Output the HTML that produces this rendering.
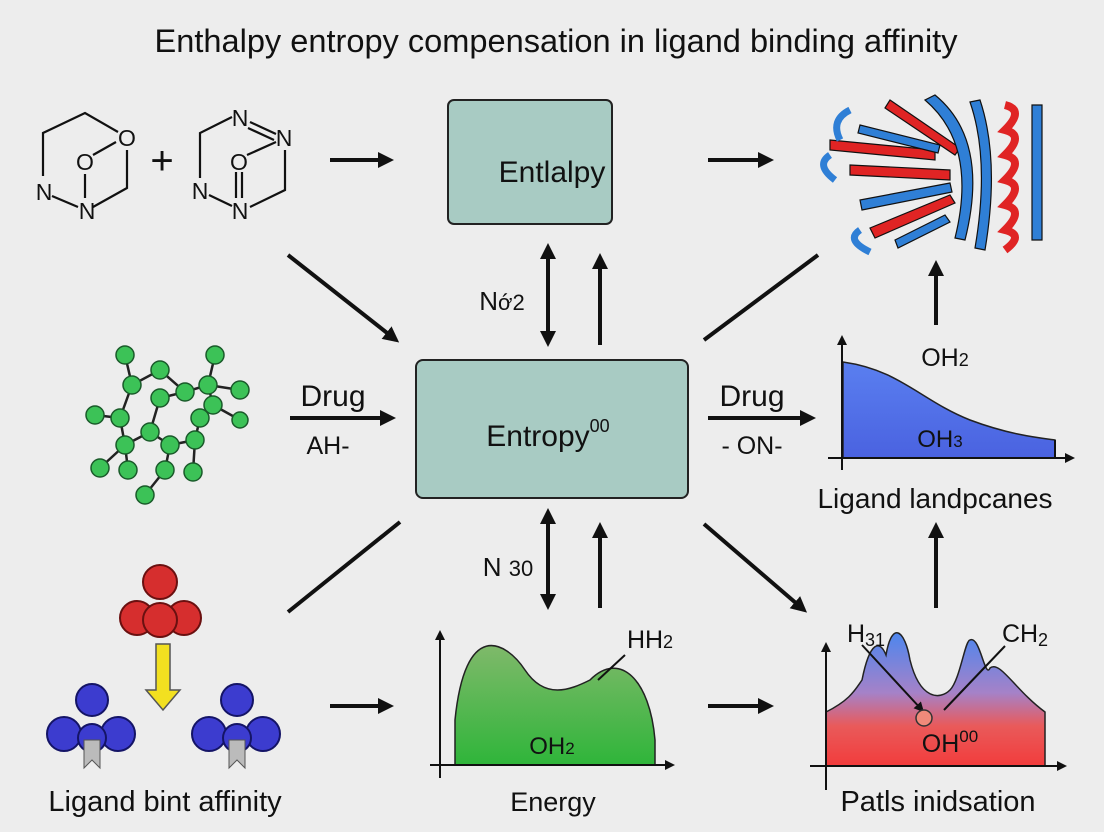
<!DOCTYPE html>
<html><head><meta charset="utf-8"><style>
html,body{margin:0;padding:0;background:#ededed;}
svg{display:block;font-family:"Liberation Sans",sans-serif;}
</style></head><body>
<svg width="1104" height="832" viewBox="0 0 1104 832" xmlns="http://www.w3.org/2000/svg">
<defs>
<marker id="ah" markerWidth="10" markerHeight="10" refX="7" refY="5" orient="auto" markerUnits="userSpaceOnUse"><path d="M0,0 L10,5 L0,10 Z" fill="#111"/></marker>
<marker id="ah2" markerWidth="16" markerHeight="16" refX="12" refY="8" orient="auto-start-reverse" markerUnits="userSpaceOnUse"><path d="M0,0 L16,8 L0,16 Z" fill="#111"/></marker>
<linearGradient id="gg" x1="0" y1="0" x2="0" y2="1"><stop offset="0" stop-color="#7fb96a"/><stop offset="1" stop-color="#2fb53a"/></linearGradient>
<linearGradient id="bg" x1="0" y1="0" x2="0" y2="1"><stop offset="0" stop-color="#5a7ff0"/><stop offset="1" stop-color="#4a62e0"/></linearGradient>
<linearGradient id="rg" x1="0" y1="0" x2="0" y2="1"><stop offset="0" stop-color="#4d86ee"/><stop offset="0.45" stop-color="#a582c8"/><stop offset="0.7" stop-color="#e95a5a"/><stop offset="1" stop-color="#f23c3c"/></linearGradient>
</defs>
<rect width="1104" height="832" fill="#ededed"/>
<text x="556" y="52" font-size="32" text-anchor="middle" fill="#111" textLength="803" lengthAdjust="spacingAndGlyphs">Enthalpy entropy compensation in ligand binding affinity</text>

<!-- molecules top left -->
<g stroke="#111" stroke-width="2.2" fill="none">
<path d="M43,176 L43,133 L85,113 L118,132"/>
<path d="M52,196 L78,207 M93,207 L127,188 L127,150 M93,155 L116,142 M85,174 L85,198"/>
<path d="M200,178 L200,133 L232,117 M250,122 L276,134 M248,128 L274,140 M285,150 L285,190 L250,207 M209,195 L232,206 M247,155 L276,142 M236,172 L236,198 M242,172 L242,198"/>
</g>
<g font-size="23" fill="#111" text-anchor="middle">
<text x="127" y="146">O</text><text x="85" y="170">O</text><text x="44" y="200">N</text><text x="87" y="219">N</text>
<text x="240" y="126">N</text><text x="284" y="146">N</text><text x="239" y="170">O</text><text x="200" y="199">N</text><text x="240" y="219">N</text>
<text x="162" y="174" font-size="40">+</text>
</g>

<!-- boxes -->
<rect x="448" y="100" width="164" height="124" rx="6" fill="#a8cbc3" stroke="#222" stroke-width="2"/>
<text x="552" y="182" font-size="30" text-anchor="middle" fill="#111">Entlalpy</text>
<rect x="416" y="360" width="272" height="138" rx="7" fill="#a8cbc3" stroke="#222" stroke-width="2"/>
<text x="548" y="446" font-size="30" text-anchor="middle" fill="#111">Entropy<tspan font-size="18" dy="-14">00</tspan></text>

<!-- arrows -->
<g stroke="#111" stroke-width="4" fill="none">
<line x1="330" y1="160" x2="390" y2="160" marker-end="url(#ah2)"/>
<line x1="708" y1="160" x2="770" y2="160" marker-end="url(#ah2)"/>
<line x1="330" y1="706" x2="390" y2="706" marker-end="url(#ah2)"/>
<line x1="708" y1="706" x2="770" y2="706" marker-end="url(#ah2)"/>
<line x1="288" y1="255" x2="396" y2="340" marker-end="url(#ah2)"/>
<line x1="818" y1="255" x2="704" y2="340"/>
<line x1="400" y1="522" x2="288" y2="612"/>
<line x1="704" y1="524" x2="804" y2="610" marker-end="url(#ah2)"/>
<line x1="548" y1="247" x2="548" y2="343" marker-start="url(#ah2)" marker-end="url(#ah2)"/>
<line x1="600" y1="345" x2="600" y2="257" marker-end="url(#ah2)"/>
<line x1="548" y1="512" x2="548" y2="606" marker-start="url(#ah2)" marker-end="url(#ah2)"/>
<line x1="600" y1="608" x2="600" y2="526" marker-end="url(#ah2)"/>
<line x1="290" y1="418" x2="392" y2="418" marker-end="url(#ah2)"/>
<line x1="708" y1="418" x2="812" y2="418" marker-end="url(#ah2)"/>
<line x1="936" y1="325" x2="936" y2="264" marker-end="url(#ah2)"/>
<line x1="936" y1="608" x2="936" y2="526" marker-end="url(#ah2)"/>
</g>
<g font-size="26" fill="#111" text-anchor="middle">
<text x="502" y="310">N<tspan font-size="22">ớ2</tspan></text>
<text x="508" y="576">N <tspan font-size="22">30</tspan></text>
<text x="333" y="406" font-size="30">Drug</text>
<text x="328" y="454" font-size="25">AH-</text>
<text x="752" y="406" font-size="30">Drug</text>
<text x="752" y="454" font-size="25">- ON-</text>
<text x="945" y="366" font-size="25">OH<tspan font-size="18">2</tspan></text>
<text x="935" y="508" font-size="28">Ligand landpcanes</text>
<text x="165" y="811" font-size="29">Ligand bint affinity</text>
<text x="553" y="811" font-size="27">Energy</text>
<text x="938" y="811" font-size="29">Patls inidsation</text>
</g>

<!-- green molecule -->
<g stroke="#222" stroke-width="2.5" fill="none">
<path d="M125,355 L132,385 L160,370 L185,392 L208,385 L215,355 M208,385 L240,390 M208,385 L213,405 L240,420 M132,385 L120,418 L95,415 M120,418 L125,445 L150,432 L160,398 M125,445 L100,468 M125,445 L128,470 M150,432 L170,445 L195,440 L200,418 L213,405 M170,445 L165,470 L145,495 M195,440 L193,472 M185,392 L160,398"/>
</g>
<g fill="#3cc257" stroke="#1a5a2a" stroke-width="1.5">
<circle cx="125" cy="355" r="9"/><circle cx="132" cy="385" r="9"/><circle cx="160" cy="370" r="9"/><circle cx="185" cy="392" r="9"/><circle cx="208" cy="385" r="9"/><circle cx="215" cy="355" r="9"/><circle cx="240" cy="390" r="9"/><circle cx="213" cy="405" r="9"/><circle cx="240" cy="420" r="8"/><circle cx="120" cy="418" r="9"/><circle cx="95" cy="415" r="9"/><circle cx="125" cy="445" r="9"/><circle cx="150" cy="432" r="9"/><circle cx="160" cy="398" r="9"/><circle cx="100" cy="468" r="9"/><circle cx="128" cy="470" r="9"/><circle cx="170" cy="445" r="9"/><circle cx="195" cy="440" r="9"/><circle cx="200" cy="418" r="9"/><circle cx="165" cy="470" r="9"/><circle cx="145" cy="495" r="9"/><circle cx="193" cy="472" r="9"/>
</g>

<!-- red cluster -->
<g fill="#d62e2e" stroke="#6a1010" stroke-width="2">
<circle cx="160" cy="582" r="17"/><circle cx="137" cy="618" r="17"/><circle cx="184" cy="618" r="17"/><circle cx="160" cy="620" r="17"/>
</g>
<path d="M156,644 L170,644 L170,690 L180,690 L163,710 L146,690 L156,690 Z" fill="#f2e020" stroke="#555" stroke-width="1.5"/>
<!-- blue clusters -->
<g fill="#3c3ccf" stroke="#141466" stroke-width="2">
<circle cx="92" cy="700" r="16"/><circle cx="64" cy="734" r="17"/><circle cx="118" cy="734" r="17"/><circle cx="92" cy="738" r="14"/>
<circle cx="237" cy="700" r="16"/><circle cx="209" cy="734" r="17"/><circle cx="263" cy="734" r="17"/><circle cx="237" cy="738" r="14"/>
</g>
<path d="M84,740 L100,740 L100,768 L92,760 L84,768 Z" fill="#bbb" stroke="#555"/>
<path d="M229,740 L245,740 L245,768 L237,760 L229,768 Z" fill="#bbb" stroke="#555"/>

<!-- protein (approx) -->
<g stroke="#111" stroke-width="1.2">
<path d="M830,140 L935,150 L935,160 L830,150 Z" fill="#e02424"/>
<path d="M850,165 L950,170 L950,180 L850,175 Z" fill="#e02424"/>
<path d="M860,200 L950,183 L952,192 L862,210 Z" fill="#2f7fd6"/>
<path d="M870,228 L950,195 L955,203 L875,238 Z" fill="#e02424"/>
<path d="M860,125 L940,145 L938,153 L858,133 Z" fill="#2f7fd6"/>
<path d="M890,100 L960,148 L955,155 L885,108 Z" fill="#e02424"/>
<path d="M935,95 Q990,140 965,240 L955,238 Q978,145 925,100 Z" fill="#2f7fd6"/>
<path d="M980,100 Q1000,160 985,250 L975,248 Q990,160 970,102 Z" fill="#2f7fd6"/>
<path d="M1032,105 L1042,105 L1042,240 L1032,240 Z" fill="#2f7fd6"/>
<path d="M1005,105 q20,5 0,25 q20,5 0,25 q20,5 0,25 q20,5 0,25 q20,5 0,25 q20,5 0,20" fill="none" stroke="#e02424" stroke-width="8"/>
<path d="M895,240 L945,215 L950,222 L898,248 Z" fill="#2f7fd6"/>
<path d="M850,110 q-20,10 -10,30 M830,155 q-15,10 5,25 M860,230 q-15,10 10,22" fill="none" stroke="#2f7fd6" stroke-width="7"/>
</g>

<!-- right chart -->
<path d="M843,362 C900,370 920,400 970,420 C1010,435 1040,438 1055,440 L1055,458 L843,458 Z" fill="url(#bg)" stroke="#222" stroke-width="1.5"/>
<g stroke="#111" stroke-width="2" fill="none">
<line x1="842" y1="470" x2="842" y2="338" marker-end="url(#ah)"/>
<line x1="828" y1="458" x2="1072" y2="458" marker-end="url(#ah)"/>
<line x1="1055" y1="440" x2="1055" y2="458"/>
</g>
<text x="940" y="447" font-size="24" text-anchor="middle" fill="#111">OH<tspan font-size="17">3</tspan></text>

<!-- bottom middle chart -->
<path d="M455,720 C465,620 505,640 525,670 C545,700 570,690 590,680 C620,650 650,680 655,740 L655,765 L455,765 Z" fill="url(#gg)" stroke="#222" stroke-width="1.5"/>
<g stroke="#111" stroke-width="2" fill="none">
<line x1="440" y1="778" x2="440" y2="633" marker-end="url(#ah)"/>
<line x1="430" y1="765" x2="672" y2="765" marker-end="url(#ah)"/>
<line x1="598" y1="680" x2="625" y2="655"/>
</g>
<text x="650" y="648" font-size="25" text-anchor="middle" fill="#111">HH<tspan font-size="18">2</tspan></text>
<text x="552" y="754" font-size="24" text-anchor="middle" fill="#111">OH<tspan font-size="17">2</tspan></text>

<!-- bottom right chart -->
<path d="M826,712 C850,700 855,690 862,680 C870,640 880,640 886,655 C892,620 905,630 910,660 C920,700 940,700 950,690 C960,680 965,640 970,640 C980,635 985,680 990,668 C1000,660 1015,690 1045,712 L1045,766 L826,766 Z" fill="url(#rg)" stroke="#222" stroke-width="1.5"/>
<g stroke="#111" stroke-width="2" fill="none">
<line x1="826" y1="790" x2="826" y2="645" marker-end="url(#ah)"/>
<line x1="810" y1="766" x2="1064" y2="766" marker-end="url(#ah)"/>
<line x1="862" y1="645" x2="922" y2="710" marker-end="url(#ah)"/>
<line x1="944" y1="710" x2="1005" y2="646"/>
</g>
<circle cx="924" cy="718" r="8" fill="#ef8a7a" stroke="#333" stroke-width="1.5"/>
<g font-size="25" fill="#111" text-anchor="middle">
<text x="866" y="642">H<tspan font-size="18" dy="4">31</tspan></text>
<text x="1025" y="642">CH<tspan font-size="18" dy="4">2</tspan></text>
<text x="950" y="752">OH<tspan font-size="17" dy="-10">00</tspan></text>
</g>
</svg>
</body></html>
